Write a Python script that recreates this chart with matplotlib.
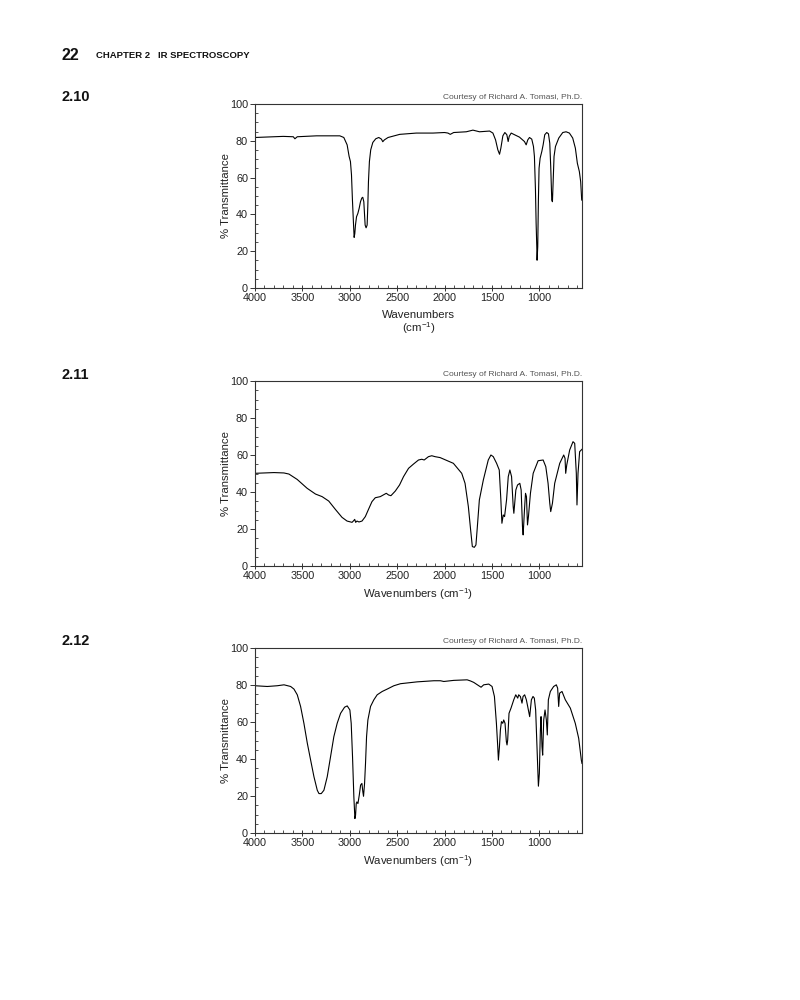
import matplotlib
matplotlib.use("Agg")
import matplotlib.pyplot as plt
from matplotlib.ticker import MultipleLocator, FixedLocator

plt.rcParams['font.family'] = ['Liberation Sans', 'DejaVu Sans']
plt.rcParams['mathtext.fontset'] = 'custom'
plt.rcParams['mathtext.rm'] = 'Liberation Sans'
plt.rcParams['mathtext.it'] = 'Liberation Sans:italic'
plt.rcParams['mathtext.bf'] = 'Liberation Sans:bold'

# ---------------- data ----------------
# Spectrum 2.10
wn1 = [4000, 3702, 3596, 3579, 3554, 3351, 3105, 3063, 3028, 3007, 2993, 2982, 2972, 2961,
       2954, 2947, 2940, 2929, 2915, 2901, 2887, 2873, 2863, 2852, 2845, 2838, 2828, 2817,
       2810, 2803, 2793, 2779, 2757, 2726, 2694, 2666, 2652, 2635, 2596, 2473, 2298, 2122,
       2000, 1964, 1940, 1904, 1771, 1701, 1631, 1525, 1490, 1462, 1438, 1420, 1406, 1385,
       1364, 1343, 1329, 1318, 1297, 1262, 1210, 1157, 1139, 1122, 1104, 1080, 1062, 1052,
       1041, 1034, 1027, 1024, 1017, 1010, 1003, 992, 974, 960, 943, 922, 904, 890, 880,
       869, 862, 855, 845, 830, 795, 753, 718, 683, 648, 620, 599, 578, 564, 553]
t1 = [81.8, 82.4, 82.2, 81.1, 82.2, 82.7, 82.7, 81.8, 77.8, 71.5, 68.7, 61.5, 47.8, 35.1,
      27.5, 29.6, 34.2, 38.7, 40.5, 43.3, 46.9, 48.9, 49.3, 46.9, 40.5, 34.2, 32.7, 34.2,
      44.2, 57.8, 68.7, 75.1, 79.1, 81.1, 81.8, 80.9, 79.5, 80.5, 81.8, 83.5, 84.2, 84.2,
      84.5, 84.2, 83.5, 84.5, 84.9, 85.8, 84.9, 85.3, 84.2, 80.5, 75.1, 72.7, 76.0, 82.7,
      84.5, 83.3, 79.6, 82.4, 84.2, 83.3, 82.0, 79.6, 77.8, 80.5, 81.8, 80.9, 76.9, 71.5,
      53.3, 35.1, 22.4, 15.1, 22.4, 47.8, 65.1, 70.5, 74.2, 77.8, 83.3, 84.5, 83.8, 78.7, 66.0,
      47.8, 46.9, 56.9, 71.5, 76.9, 81.5, 84.5, 84.9, 84.2, 81.5, 76.0, 67.8, 63.3, 57.8, 47.8]

# Spectrum 2.11
wn2 = [4000, 3800, 3695, 3642, 3555, 3450, 3362, 3292, 3222, 3152, 3082, 3029, 2976, 2959,
       2948, 2938, 2924, 2903, 2871, 2836, 2801, 2766, 2731, 2678, 2636, 2615, 2591, 2566,
       2520, 2475, 2433, 2380, 2328, 2275, 2240, 2215, 2170, 2135, 2100, 2047, 1907, 1819,
       1784, 1749, 1725, 1707, 1686, 1669, 1654, 1633, 1591, 1539, 1511, 1486, 1451, 1423,
       1406, 1395, 1381, 1367, 1346, 1328, 1311, 1293, 1276, 1269, 1248, 1230, 1206, 1192,
       1178, 1171, 1157, 1146, 1136, 1125, 1115, 1094, 1065, 1013, 960, 932, 908, 890, 880,
       862, 838, 785, 743, 729, 722, 711, 680, 645, 627, 610, 603, 592, 575, 550]
t2 = [50.1, 50.5, 50.3, 49.7, 46.8, 42.0, 38.9, 37.5, 35.1, 30.6, 26.3, 24.3, 23.6, 24.5,
      25.2, 23.6, 24.3, 23.8, 24.3, 26.7, 30.8, 34.8, 36.9, 37.5, 38.7, 39.3, 38.4, 38.0,
      40.5, 43.8, 48.3, 52.8, 55.1, 57.3, 57.7, 57.3, 59.1, 59.6, 59.1, 58.6, 55.5, 50.1,
      44.7, 32.1, 19.5, 10.5, 10.1, 11.4, 21.3, 35.7, 46.5, 57.3, 60.0, 59.1, 55.5, 51.9,
      35.7, 23.1, 27.6, 26.7, 35.7, 48.3, 51.9, 48.3, 32.1, 28.5, 41.1, 43.8, 44.7, 41.1,
      21.3, 16.8, 30.3, 39.3, 37.5, 22.2, 26.7, 39.3, 50.1, 56.9, 57.3, 53.7, 44.7, 33.9,
      29.4, 33.9, 44.7, 55.5, 60.0, 58.2, 50.1, 54.6, 62.7, 67.2, 66.3, 50.1, 33.0, 50.1,
      61.8, 63.1]

# Spectrum 2.12
wn3 = [4000, 3870, 3765, 3694, 3624, 3589, 3554, 3519, 3484, 3448, 3413, 3378, 3343, 3325,
       3301, 3273, 3238, 3203, 3168, 3133, 3097, 3055, 3027, 2999, 2985, 2971, 2957, 2946,
       2939, 2932, 2925, 2914, 2900, 2886, 2872, 2862, 2855, 2844, 2834, 2823, 2809, 2781,
       2746, 2711, 2658, 2605, 2535, 2465, 2289, 2113, 2043, 2008, 1903, 1762, 1727, 1692,
       1639, 1615, 1587, 1534, 1499, 1474, 1453, 1439, 1432, 1421, 1411, 1400, 1386, 1376,
       1362, 1348, 1341, 1334, 1320, 1299, 1270, 1249, 1228, 1218, 1200, 1183, 1172, 1155,
       1137, 1123, 1102, 1084, 1067, 1053, 1039, 1025, 1010, 1000, 989, 982, 972, 965, 954,
       940, 926, 916, 905, 884, 849, 821, 807, 796, 786, 761, 726, 673, 621, 585, 557, 550]
t3 = [79.6, 79.2, 79.6, 80.1, 79.2, 77.8, 74.7, 68.4, 59.3, 48.5, 39.4, 30.4, 23.1, 21.3,
      21.3, 23.1, 30.4, 41.2, 52.1, 59.3, 64.7, 68.0, 68.7, 66.5, 59.3, 41.2, 19.5, 7.8,
      9.6, 15.9, 16.8, 15.9, 20.4, 25.9, 26.8, 22.2, 19.9, 26.8, 37.6, 52.1, 61.1, 68.4,
      72.0, 74.7, 76.5, 77.8, 79.6, 80.7, 81.7, 82.3, 82.3, 81.9, 82.5, 82.8, 82.2, 81.4,
      79.6, 78.8, 80.1, 80.5, 79.2, 73.8, 59.3, 46.7, 39.4, 46.7, 55.7, 60.2, 59.3, 61.1,
      59.3, 49.4, 47.6, 50.3, 64.7, 67.5, 72.0, 74.7, 72.9, 74.7, 73.8, 70.2, 73.8, 74.7,
      72.0, 68.4, 62.9, 72.0, 73.8, 72.9, 66.5, 46.7, 25.3, 32.2, 55.7, 62.9, 46.7, 42.1, 61.1,
      66.5, 61.1, 53.0, 72.0, 76.5, 79.2, 80.1, 78.3, 68.4, 75.6, 76.5, 72.0, 67.5, 59.3,
      51.2, 39.4, 37.6]

x_ticks = [4000, 3500, 3000, 2500, 2000, 1500, 1000]
y_ticks = [0, 20, 40, 60, 80, 100]
panel_ids = ["2.10", "2.11", "2.12"]
xlabels = ["Wavenumbers\n(cm$^{-1}$)", "Wavenumbers (cm$^{-1}$)", "Wavenumbers (cm$^{-1}$)"]
credit = "Courtesy of Richard A. Tomasi, Ph.D."

# ---------------- figure ----------------
W, H = 800, 1000
fig = plt.figure(figsize=(W / 100, H / 100), dpi=100)

# (top, bottom) in pixels of each axes
boxes = [(104, 288), (381, 566), (648, 833)]
left_px, right_px = 255, 582
label_y = [97, 375, 641]
xlabel_centre_px = [323, 594, 861]

spectra = [(wn1, t1), (wn2, t2), (wn3, t3)]

for i, ((wn, t), (top, bot)) in enumerate(zip(spectra, boxes)):
    ax = fig.add_axes([left_px / W, 1 - bot / H, (right_px - left_px) / W, (bot - top) / H])
    ax.plot(wn, t, color='black', lw=0.8)
    ax.set_xlim(4000, 550)
    ax.set_ylim(0, 100)
    ax.xaxis.set_major_locator(FixedLocator(x_ticks))
    ax.xaxis.set_minor_locator(MultipleLocator(100))
    ax.yaxis.set_major_locator(FixedLocator(y_ticks))
    ax.yaxis.set_minor_locator(MultipleLocator(5))
    ax.tick_params(axis='both', which='major', labelsize=7.8, color='#333333',
                   labelcolor='#222222', width=0.7)
    ax.tick_params(axis='x', which='major', direction='inout', length=4, pad=1.5)
    ax.tick_params(axis='x', which='minor', direction='in', length=2, width=0.6, color='#333333')
    ax.tick_params(axis='y', which='major', direction='out', length=3.5, pad=1.5)
    ax.tick_params(axis='y', which='minor', direction='in', length=2, width=0.6, color='#333333')
    for s in ax.spines.values():
        s.set_linewidth(0.8)
        s.set_color('#333333')
    ax.set_ylabel("% Transmittance", fontsize=8.2, color='#222222')
    ax.yaxis.set_label_coords((231 - left_px) / (right_px - left_px), 0.5)
    ax.set_xlabel(xlabels[i], fontsize=8.2, color='#222222', linespacing=1.1)
    ax.xaxis.label.set_va('center')
    ax.xaxis.set_label_coords(0.5, -(xlabel_centre_px[i] - bot) / (bot - top))
    ax.text(1.0, 1.015, credit, transform=ax.transAxes, ha='right', va='bottom',
            fontsize=6.0, color='#555555')
    fig.text(61 / W, 1 - label_y[i] / H, panel_ids[i], ha='left', va='center',
             fontsize=10.5, fontweight='bold', color='#111111')

fig.text(61 / W, 1 - 55 / H, "22", ha='left', va='center', fontsize=11.5,
         fontweight='bold', color='#111111')
fig.text(96 / W, 1 - 56 / H, "CHAPTER 2   IR SPECTROSCOPY", ha='left', va='center',
         fontsize=6.8, fontweight='bold', color='#111111')

fig.savefig("out.png", dpi=100, facecolor='white')
